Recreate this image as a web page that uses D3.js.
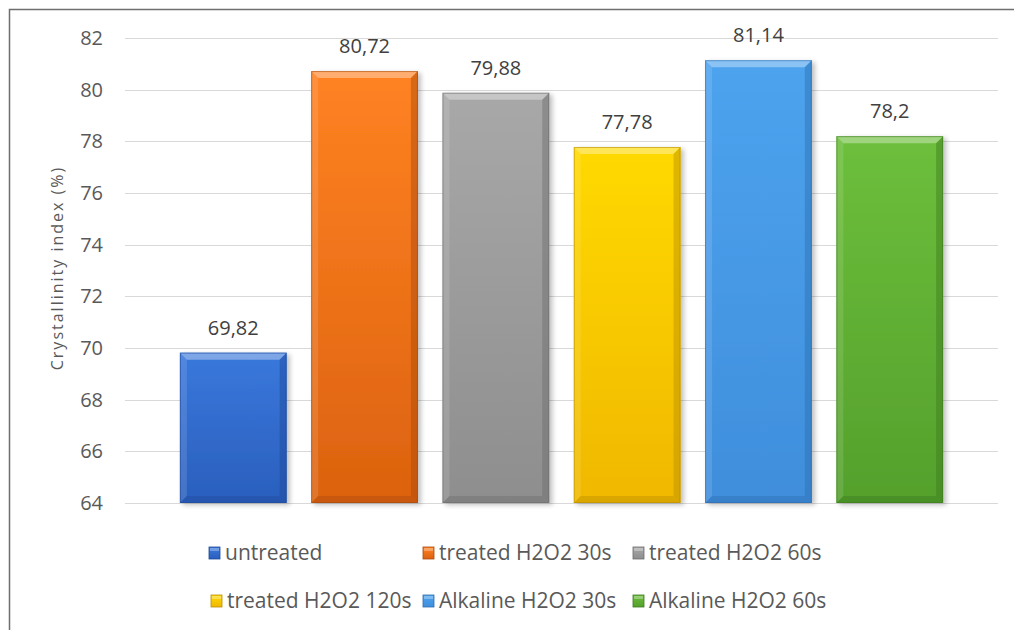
<!DOCTYPE html>
<html>
<head>
<meta charset="utf-8">
<script src="https://cdn.jsdelivr.net/npm/d3@7"></script>
<style>
  html, body { margin: 0; padding: 0; background: #fff; }
  svg { display: block; font-family: "Open Sans", "Noto Sans", sans-serif; }
</style>
</head>
<body>
<svg id="chart" width="1014" height="630"></svg>
<script>
// Crystallinity index per sample
const samples = ["untreated", "treated H2O2 30s", "treated H2O2 60s",
                 "treated H2O2 120s", "Alkaline H2O2 30s", "Alkaline H2O2 60s"];
const values = [69.82, 80.72, 79.88, 77.78, 81.14, 78.2];
const valueLabels = ["69,82", "80,72", "79,88", "77,78", "81,14", "78,2"];
const yTicks = [64, 66, 68, 70, 72, 74, 76, 78, 80, 82];
const yTitle = "Crystallinity index (%)";

// fill colours: [top, bottom, edge]
const palette = [
  ["#3a78dc", "#2a5fbd", "#1f4a99"],
  ["#ff8222", "#dc620f", "#a94a0a"],
  ["#a8a8a8", "#8e8e8e", "#6c6c6c"],
  ["#ffd900", "#f0b800", "#b88d00"],
  ["#4da3ee", "#3f8edc", "#2d6eb0"],
  ["#6dbf3c", "#54a02c", "#3d7a1f"]
];

const svg = d3.select("#chart");
const W = 1014, H = 630;

// outer frame (top and left edges visible)
svg.append("path")
  .attr("d", `M9.5,${H} V9.5 H${W}`)
  .attr("fill", "none").attr("stroke", "#6e6e6e").attr("stroke-width", 1.5);

const plot = { left: 125, right: 998, top: 38, bottom: 503 };

const y = d3.scaleLinear().domain([64, 82]).range([plot.bottom, plot.top]);
const x = d3.scaleBand().domain(samples)
  .range([plot.left, plot.right])
  .paddingInner(0.187).paddingOuter(0.418);

// gridlines
svg.append("g").selectAll("line").data(yTicks).join("line")
  .attr("x1", plot.left).attr("x2", plot.right)
  .attr("y1", d => Math.round(y(d)) + 0.5).attr("y2", d => Math.round(y(d)) + 0.5)
  .attr("stroke", "#d9d9d9").attr("stroke-width", 1);

// y axis tick labels
const yAxis = d3.axisLeft(y).tickValues(yTicks).tickSize(0).tickPadding(0);
const gy = svg.append("g").attr("transform", `translate(103,0)`).call(yAxis);
gy.select(".domain").remove();
gy.selectAll("text").attr("fill", "#595959").style("font-size", "20px")
  .style("font-family", "'Open Sans', sans-serif");

// y axis title
svg.append("text")
  .attr("transform", `translate(63,268) rotate(-90)`)
  .attr("text-anchor", "middle").attr("fill", "#595959")
  .style("font-size", "16px").style("letter-spacing", "2px")
  .text(yTitle);

// gradients
const defs = svg.append("defs");
palette.forEach((c, i) => {
  const g = defs.append("linearGradient").attr("id", "grad" + i)
    .attr("x1", 0).attr("y1", 0).attr("x2", 0).attr("y2", 1);
  g.append("stop").attr("offset", "0%").attr("stop-color", c[0]);
  g.append("stop").attr("offset", "100%").attr("stop-color", c[1]);
});
const shadow = defs.append("filter").attr("id", "shadow")
  .attr("x", "-10%").attr("y", "-10%").attr("width", "130%").attr("height", "130%");
shadow.append("feGaussianBlur").attr("in", "SourceAlpha").attr("stdDeviation", 2.5);
shadow.append("feOffset").attr("dx", 3).attr("dy", 2).attr("result", "b");
shadow.append("feComponentTransfer").append("feFuncA").attr("type", "linear").attr("slope", 0.25);
const merge = shadow.append("feMerge");
merge.append("feMergeNode");
merge.append("feMergeNode").attr("in", "SourceGraphic");

// bars with bevelled edges
const bev = 7;
const bars = svg.append("g").selectAll("g").data(samples).join("g")
  .attr("filter", "url(#shadow)");

bars.each(function (s, i) {
  const g = d3.select(this);
  const x0 = x(s), w = x.bandwidth();
  const y0 = y(values[i]), y1 = y(64);
  const c = palette[i];
  g.append("rect").attr("x", x0).attr("y", y0).attr("width", w).attr("height", y1 - y0)
    .attr("fill", `url(#grad${i})`);
  // top bevel (light)
  g.append("path")
    .attr("d", `M${x0},${y0} H${x0 + w} L${x0 + w - bev},${y0 + bev} H${x0 + bev} Z`)
    .attr("fill", "#ffffff").attr("opacity", 0.35);
  // left bevel (light)
  g.append("path")
    .attr("d", `M${x0},${y0} L${x0 + bev},${y0 + bev} V${y1 - bev} L${x0},${y1} Z`)
    .attr("fill", "#ffffff").attr("opacity", 0.12);
  // right bevel (dark)
  g.append("path")
    .attr("d", `M${x0 + w},${y0} L${x0 + w - bev},${y0 + bev} V${y1 - bev} L${x0 + w},${y1} Z`)
    .attr("fill", c[2]).attr("opacity", 0.45);
  // bottom bevel (dark)
  g.append("path")
    .attr("d", `M${x0},${y1} L${x0 + bev},${y1 - bev} H${x0 + w - bev} L${x0 + w},${y1} Z`)
    .attr("fill", c[2]).attr("opacity", 0.4);
  g.append("rect").attr("x", x0 + 0.5).attr("y", y0 + 0.5).attr("width", w - 1).attr("height", y1 - y0 - 1)
    .attr("fill", "none").attr("stroke", c[2]).attr("stroke-opacity", 0.6);
});

// value labels
svg.append("g").selectAll("text").data(samples).join("text")
  .attr("x", s => x(s) + x.bandwidth() / 2)
  .attr("y", (s, i) => y(values[i]) - 18)
  .attr("text-anchor", "middle").attr("fill", "#404040")
  .style("font-size", "20px")
  .text((s, i) => valueLabels[i]);

// legend
const legendPos = [
  [209, 553], [423, 553], [633, 553],
  [211, 601], [423, 601], [633, 601]
];
const leg = svg.append("g").selectAll("g").data(samples).join("g")
  .attr("transform", (s, i) => `translate(${legendPos[i][0]},${legendPos[i][1]})`);
leg.append("rect").attr("x", 0).attr("y", -6).attr("width", 11).attr("height", 12)
  .attr("fill", (s, i) => `url(#grad${i})`)
  .attr("stroke", (s, i) => palette[i][2]).attr("stroke-width", 0.8);
leg.append("rect").attr("x", 1).attr("y", -5).attr("width", 9).attr("height", 3)
  .attr("fill", "#fff").attr("opacity", 0.3);
leg.append("text").attr("x", 16).attr("y", 0).attr("dy", "0.35em")
  .attr("fill", "#595959").style("font-size", "21px").style("letter-spacing", "0px")
  .text(s => s);
</script>
</body>
</html>
